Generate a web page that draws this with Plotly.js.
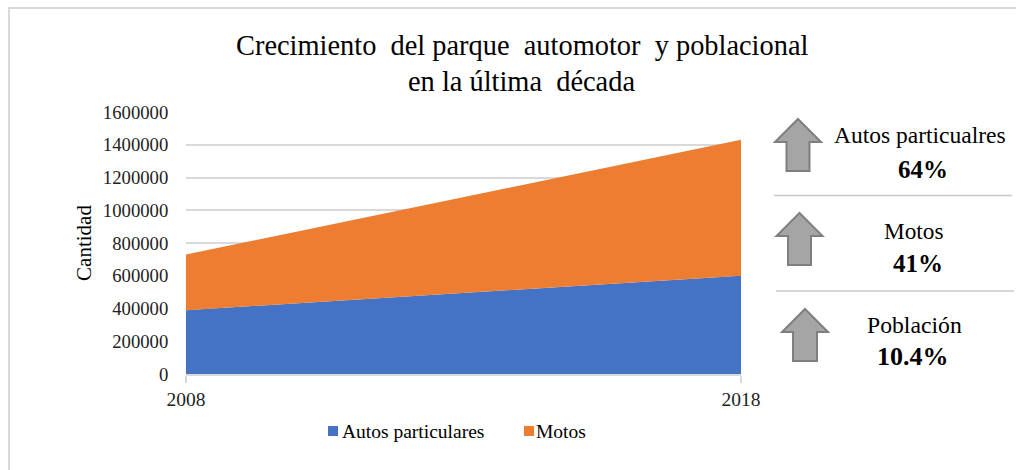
<!DOCTYPE html>
<html>
<head>
<meta charset="utf-8">
<script src="https://cdn.plot.ly/plotly-3.0.1.min.js"></script>
<style>html,body{margin:0;padding:0;background:#fff}#c{width:1016px;height:470px}</style>
</head>
<body>
<div id="c"></div>
<script>
var years = [2008, 2018];
var autos = [390000, 600000];
var motos = [340000, 830000];
var yTicks = [0,200000,400000,600000,800000,1000000,1200000,1400000,1600000];
var W=1016,H=470,L=186,R=741,T=112,B=374;
var serif='"Liberation Serif", serif';
function px(x){return (x-L)/(R-L);}
function py(y){return (B-y)/(B-T);}
function arrow(tipX,tipY,halfHead,headH,halfShaft,bottom){
  var p=[[tipX,tipY],[tipX+halfHead,tipY+headH],[tipX+halfShaft,tipY+headH],[tipX+halfShaft,bottom],[tipX-halfShaft,bottom],[tipX-halfShaft,tipY+headH],[tipX-halfHead,tipY+headH]];
  return {type:'path',xref:'paper',yref:'paper',path:'M'+p.map(function(q){return px(q[0]).toFixed(5)+','+py(q[1]).toFixed(5);}).join(' L')+' Z',
    fillcolor:'#a5a5a5',line:{color:'#7f7f7f',width:2}};
}
function hline(x0,x1,y){return {type:'line',xref:'paper',yref:'paper',x0:px(x0),x1:px(x1),y0:py(y),y1:py(y),line:{color:'#c8c8c8',width:1.5}};}
function swatch(x0,y0,size,color){return {type:'rect',xref:'paper',yref:'paper',x0:px(x0),x1:px(x0+size),y0:py(y0),y1:py(y0+size),fillcolor:color,line:{width:0}};}
function label(text,x,y,size,bold){return {xref:'paper',yref:'paper',x:px(x),y:py(y),text:bold?'<b>'+text+'</b>':text,showarrow:false,xanchor:'center',yanchor:'middle',font:{family:serif,size:size,color:'#000'}};}
var shapes=[
  {type:'rect',xref:'paper',yref:'paper',x0:px(9),x1:px(1030),y0:py(8),y1:py(490),line:{color:'#d9d9d9',width:2},fillcolor:'rgba(0,0,0,0)'},
  arrow(798,119,23,23,11.5,171),
  arrow(799.5,213,23,23,11.5,265),
  arrow(805,309,23,23,12,361),
  hline(774,1012,195.5),
  hline(776,1014,291),
  swatch(328,426,10,'#4472c4'),
  swatch(524,426,10,'#ed7d31')
];
var annotations=[
  label('Crecimiento  del parque  automotor  y poblacional',521.5,46,28.4),
  label('en la última  década',521.5,82,28.4),
  label('Autos particualres',920,135,23.5),
  label('64%',922.5,169,25,true),
  label('Motos',914,231,23.3),
  label('41%',918,263,25,true),
  label('Población',914.5,325,23.7),
  label('10.4%',912.5,356,26,true),
  label('Autos particulares',413,431,19.5),
  label('Motos',561,431,19.5)
];
var data=[
  {x:years,y:autos,name:'Autos particulares',type:'scatter',mode:'none',stackgroup:'a',fillcolor:'#4472c4',line:{width:0}},
  {x:years,y:motos,name:'Motos',type:'scatter',mode:'none',stackgroup:'a',fillcolor:'#ed7d31',line:{width:0}}
];
var layout={
  width:W,height:H,paper_bgcolor:'#fff',plot_bgcolor:'#fff',showlegend:false,
  margin:{l:L,r:W-R,t:T,b:H-B,pad:0},
  font:{family:serif,color:'#222',size:16},
  xaxis:{range:[2008,2018],tickmode:'array',tickvals:years,ticktext:years.map(String),ticks:'outside',ticklen:7,tickcolor:'#d9d9d9',tickwidth:2,showgrid:false,zeroline:false,showline:true,linecolor:'#d9d9d9',linewidth:2,tickfont:{family:serif,size:19.5,color:'#222'}},
  yaxis:{range:[0,1600000],tickmode:'array',tickvals:yTicks,ticktext:yTicks.map(String),showgrid:true,gridcolor:'#d9d9d9',gridwidth:2,zeroline:false,ticks:'outside',ticklen:13,tickcolor:'rgba(0,0,0,0)',tickfont:{family:serif,size:18.7,color:'#222'},
    title:{text:'Cantidad',font:{family:serif,size:21,color:'#000'},standoff:5}},
  shapes:shapes,annotations:annotations,hovermode:false
};
Plotly.newPlot('c',data,layout,{displayModeBar:false,staticPlot:true});
</script>
</body>
</html>
